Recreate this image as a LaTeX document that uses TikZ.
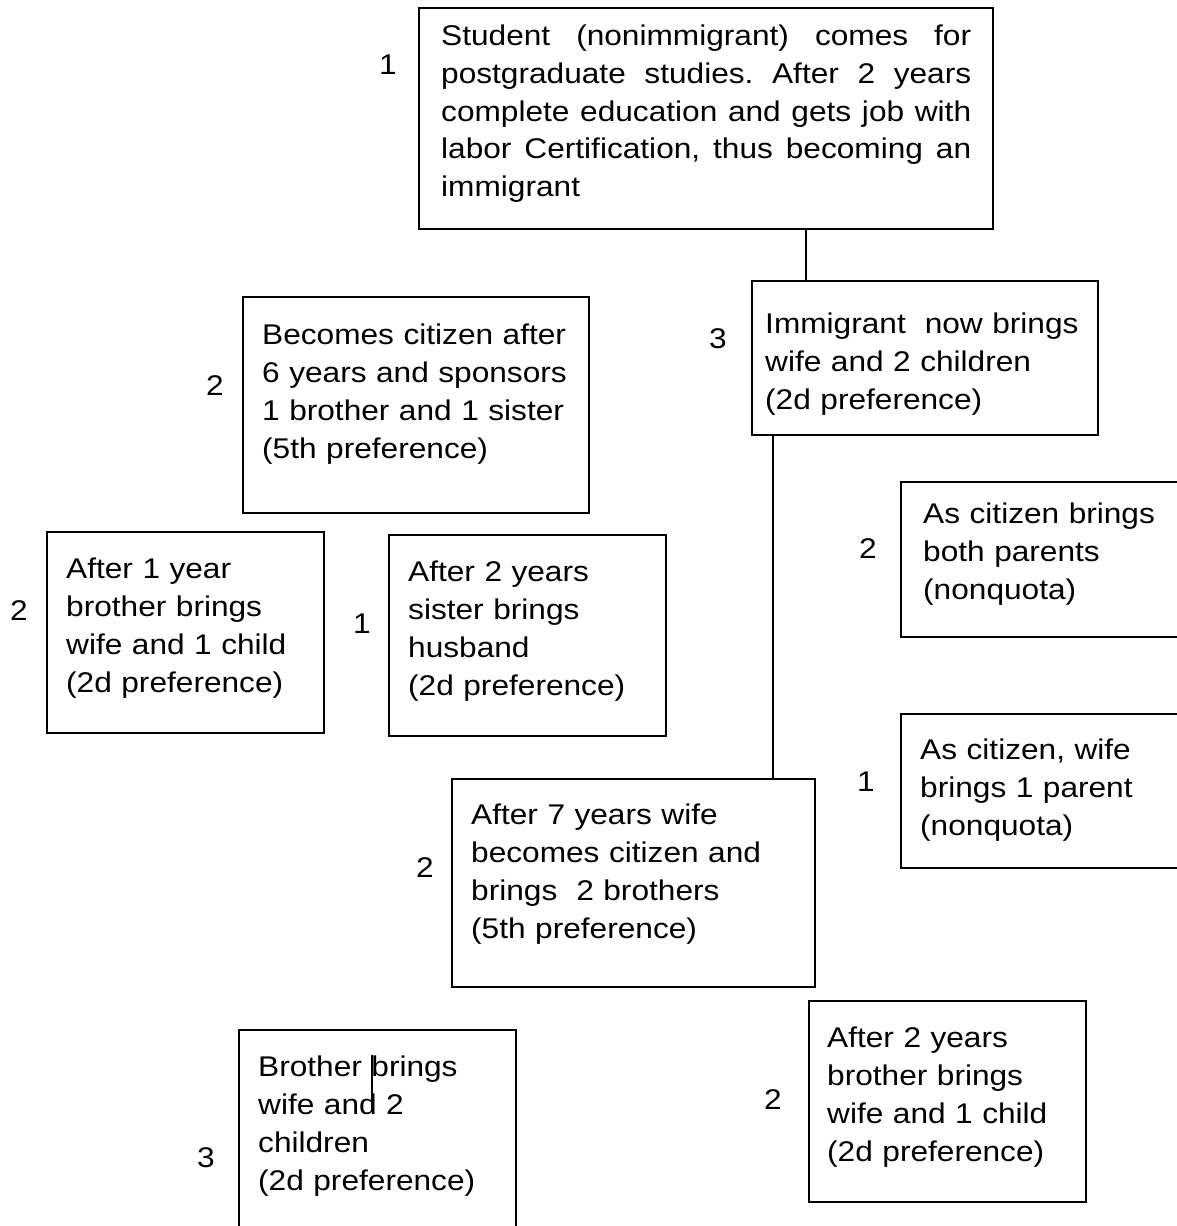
\documentclass[tikz,border=0pt]{standalone}
\usepackage{fontspec}
\setmainfont{Liberation Sans}[FakeStretch=1.11]
\usetikzlibrary{calc, positioning}
\frenchspacing

\begin{document}
\begin{tikzpicture}[x=1pt,y=-1pt,
  font=\fontsize{28.5}{38}\selectfont,
  frame/.style={draw, line width=2pt, anchor=north west, inner sep=0pt, outer sep=0pt},
  txt/.style={anchor=base west, inner sep=0pt, text width=560pt, align=left},
  num/.style={inner sep=0pt},
  link/.style={line width=1.8pt}]
\useasboundingbox (0,0) rectangle (1177,1226);
\clip (0,0) rectangle (1177,1226);

% boxes
\node[frame, minimum width=574pt, minimum height=221pt] (start) at (419,8) {};
\node[frame, minimum width=346pt, minimum height=154pt] (imm) at (752,281) {};
\node[frame, minimum width=346pt, minimum height=216pt] (cit) at (243,297) {};
\node[frame, minimum width=277pt, minimum height=201pt] (bro1) at (47,532) {};
\node[frame, minimum width=277pt, minimum height=201pt] (sis) at (389,535) {};
\node[frame, minimum width=320pt, minimum height=155pt] (par) at (901,482) {};
\node[frame, minimum width=320pt, minimum height=154pt] (wpar) at (901,714) {};
\node[frame, minimum width=363pt, minimum height=208pt] (wife) at (452,779) {};
\node[frame, minimum width=277pt, minimum height=201pt] (bro2) at (809,1001) {};
\node[frame, minimum width=277pt, minimum height=240pt] (bro3) at (239,1030) {};

% texts
\node[txt, text width=530pt, align=justify] (start-t) at (441,45)
  {Student (nonimmigrant) comes for\linebreak postgraduate studies. After 2 years\linebreak
   complete education and gets job with\linebreak labor Certification, thus becoming an\linebreak immigrant};
\node[txt] (imm-t) at (765,333) {Immigrant~ now brings\\wife and 2 children\\(2d preference)};
\node[txt] (cit-t) at (262,344) {Becomes citizen after\\6 years and sponsors\\1 brother and 1 sister\\(5th preference)};
\node[txt] (bro1-t) at (66,578) {After 1 year\\brother brings\\wife and 1 child\\(2d preference)};
\node[txt] (sis-t) at (408,581) {After 2 years\\sister brings\\husband\\(2d preference)};
\node[txt] (par-t) at (923,523) {As citizen brings\\both parents\\(nonquota)};
\node[txt] (wpar-t) at (920,759) {As citizen, wife\\brings 1 parent\\(nonquota)};
\node[txt] (wife-t) at (471,824) {After 7 years wife\\becomes citizen and\\brings~ 2 brothers\\(5th preference)};
\node[txt] (bro2-t) at (827,1047) {After 2 years\\brother brings\\wife and 1 child\\(2d preference)};
\node[txt] (bro3-t) at (258,1076) {Brother brings\\wife and 2\\children\\(2d preference)};

% numbers
\node[num] (start-n) at (388,65) {1};
\node[num] (cit-n) at (215,386) {2};
\node[num] (imm-n) at (718,339) {3};
\node[num] (bro1-n) at (19,611) {2};
\node[num] (sis-n) at (362,624) {1};
\node[num] (par-n) at (868,549) {2};
\node[num] (wpar-n) at (866,782) {1};
\node[num] (wife-n) at (425,868) {2};
\node[num] (bro3-n) at (206,1158) {3};
\node[num] (bro2-n) at (773,1100) {2};

% connectors
\coordinate (imm-in) at ($(imm.north west)+(54,0)$);
\draw[link] (imm-in) -- (imm-in |- start.south);
\coordinate (imm-out) at ($(imm.south west)+(21,0)$);
\draw[link] (imm-out) -- (imm-out |- wife.north);
\draw[line width=1.4pt] ($(bro3.north west)+(133,25)$) -- ++(0,55);
\end{tikzpicture}
\end{document}
